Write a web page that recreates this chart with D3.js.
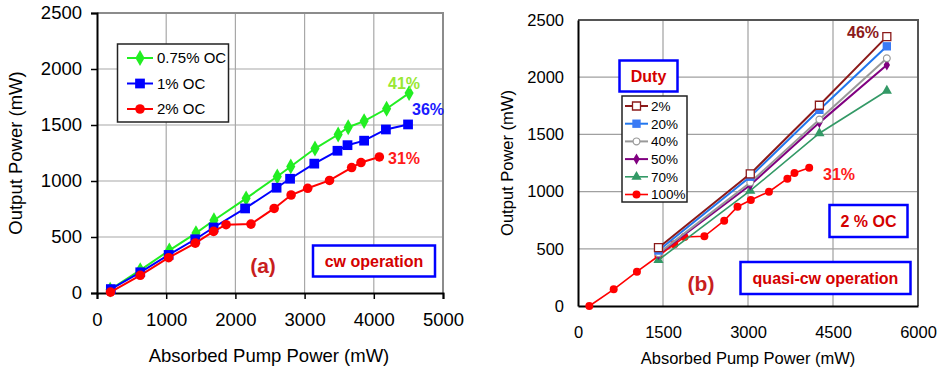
<!DOCTYPE html>
<html>
<head>
<meta charset="utf-8">
<script src="https://cdn.jsdelivr.net/npm/d3@7"></script>
<style>
body { margin: 0; background: #fff; }
svg text { font-family: "Liberation Sans", Arial, sans-serif; }
</style>
</head>
<body>
<div id="canvas"></div>
<script>
// ---- data: panel (a), cw operation ----
var cwX075 = [190, 625, 1045, 1430, 1690, 2155, 2605, 2800, 3150, 3485, 3630, 3860, 4185, 4510];
var cwY075 = [30, 205, 380, 535, 650, 845, 1040, 1130, 1290, 1415, 1480, 1535, 1645, 1785];
var cwX1 = [200, 625, 1035, 1420, 1685, 2140, 2595, 2790, 3140, 3475, 3620, 3860, 4175, 4495];
var cwY1 = [35, 185, 340, 480, 585, 755, 940, 1020, 1155, 1270, 1320, 1360, 1460, 1505];
var cwX2 = [195, 625, 1035, 1420, 1685, 1865, 2225, 2560, 2805, 3045, 3360, 3680, 3815, 4080];
var cwY2 = [8, 158, 315, 445, 550, 610, 615, 755, 875, 935, 1005, 1120, 1165, 1215];

// ---- data: panel (b), quasi-cw operation ----
var qX = [1420, 3040, 4260, 5450];
var qY2 = [510, 1155, 1755, 2355];
var qY20 = [485, 1130, 1715, 2270];
var qY40 = [460, 1080, 1630, 2165];
var qY50 = [452, 1058, 1603, 2107];
var qY70 = [402, 1008, 1510, 1882];
var qX100 = [200, 630, 1040, 1420, 1700, 1880, 2230, 2580, 2815, 3050, 3370, 3695, 3820, 4080];
var qY100 = [0, 146, 300, 437, 540, 603, 609, 746, 868, 927, 999, 1113, 1163, 1209];

var leftXTicks = [0, 1000, 2000, 3000, 4000, 5000];
var rightXTicks = [0, 1500, 3000, 4500, 6000];
var yTicks = [0, 500, 1000, 1500, 2000, 2500];

var svg = d3.select("#canvas").append("svg")
    .attr("width", 938).attr("height", 370);

function zip(xs, ys) {
    return xs.map((v, i) => ({x: v, y: ys[i]}));
}

function drawFrame(x, y, xTicks, opt) {
    var g = svg.append("g");
    var x0 = x.range()[0], x1 = x.range()[1];
    var y0 = y.range()[0], y1 = y.range()[1];
    // grid
    g.selectAll(".gx").data(xTicks.slice(1)).join("line")
        .attr("x1", d => x(d)).attr("x2", d => x(d))
        .attr("y1", y0).attr("y2", y1)
        .attr("stroke", opt.grid).attr("stroke-width", 1.2);
    g.selectAll(".gy").data(yTicks.slice(1)).join("line")
        .attr("x1", x0).attr("x2", x1)
        .attr("y1", d => y(d)).attr("y2", d => y(d))
        .attr("stroke", opt.grid).attr("stroke-width", 1.2);
    if (opt.border) {
        g.append("path")
            .attr("d", "M" + x0 + "," + y1 + "H" + x1 + "V" + y0)
            .attr("fill", "none").attr("stroke", opt.border).attr("stroke-width", 2);
    }
    // axes
    var ax = d3.axisBottom(x).tickValues(xTicks).tickSize(opt.tick).tickPadding(opt.xpad).tickFormat(d3.format("d"));
    var ay = d3.axisLeft(y).tickValues(yTicks).tickSize(opt.tick).tickPadding(opt.ypad).tickFormat(d3.format("d"));
    var gx = svg.append("g").attr("transform", "translate(0," + y0 + ")").call(ax);
    var gy = svg.append("g").attr("transform", "translate(" + x0 + ",0)").call(ay);
    [gx, gy].forEach(function(a) {
        a.select(".domain").attr("stroke", "#000").attr("stroke-width", 2);
        a.selectAll(".tick line").attr("stroke", "#000").attr("stroke-width", 1.5);
        a.selectAll("text").attr("font-size", opt.font).attr("fill", "#000")
            .attr("font-family", "Liberation Sans, Arial, sans-serif");
    });
    // titles
    svg.append("text").attr("x", opt.xlab[0]).attr("y", opt.xlab[1])
        .attr("text-anchor", "middle").attr("font-size", opt.font)
        .text("Absorbed Pump Power (mW)");
    svg.append("text")
        .attr("transform", "translate(" + opt.ylab[0] + "," + opt.ylab[1] + ") rotate(-90)")
        .attr("text-anchor", "middle").attr("font-size", opt.font)
        .text("Output Power (mW)");
}

function drawSeries(x, y, pts, s) {
    svg.append("path").datum(pts)
        .attr("d", d3.line().x(d => x(d.x)).y(d => y(d.y)))
        .attr("fill", "none").attr("stroke", s.color).attr("stroke-width", s.width);
    svg.append("g").selectAll("path").data(pts).join("path")
        .attr("transform", d => "translate(" + x(d.x) + "," + y(d.y) + ")")
        .attr("d", d3.symbol().type(s.symbol).size(s.size))
        .attr("fill", s.fill).attr("stroke", s.stroke || "none").attr("stroke-width", s.sw || 0);
}

function drawLegend(box, items, o) {
    svg.append("rect").attr("x", box[0]).attr("y", box[1])
        .attr("width", box[2]).attr("height", box[3])
        .attr("fill", "#fff").attr("stroke", "#222").attr("stroke-width", 1.5);
    items.forEach(function(s, i) {
        var yy = o.y0 + i * o.dy;
        svg.append("line").attr("x1", o.lx0).attr("x2", o.lx1).attr("y1", yy).attr("y2", yy)
            .attr("stroke", s.color).attr("stroke-width", s.width);
        svg.append("path").attr("transform", "translate(" + ((o.lx0 + o.lx1) / 2) + "," + yy + ")")
            .attr("d", d3.symbol().type(s.symbol).size(s.size))
            .attr("fill", s.fill).attr("stroke", s.stroke || "none").attr("stroke-width", s.sw || 0);
        svg.append("text").attr("x", o.tx).attr("y", yy + o.font * 0.36)
            .attr("font-size", o.font).text(s.name);
    });
}

function labelBox(r, text, font) {
    svg.append("rect").attr("x", r[0]).attr("y", r[1]).attr("width", r[2]).attr("height", r[3])
        .attr("fill", "#fff").attr("stroke", "#0000ff").attr("stroke-width", 2.5);
    svg.append("text").attr("x", r[0] + r[2] / 2).attr("y", r[1] + r[3] / 2 + font * 0.36)
        .attr("text-anchor", "middle").attr("font-size", font).attr("font-weight", "bold")
        .attr("fill", "#d40000").text(text);
}

function note(px, py, text, color, font) {
    svg.append("text").attr("x", px).attr("y", py).attr("text-anchor", "middle")
        .attr("font-size", font).attr("font-weight", "bold").attr("fill", color).text(text);
}

// ---------- panel (a) ----------
var xa = d3.scaleLinear().domain([0, 5000]).range([97, 443]);
var ya = d3.scaleLinear().domain([0, 2500]).range([293, 13]);
drawFrame(xa, ya, leftXTicks, {grid: "#a8a8a8", border: "#8c8c8c", tick: 6, xpad: 14, ypad: 9,
    font: 18.5, xlab: [269, 362], ylab: [22, 153]});

var cwSeries = [
    {name: "0.75% OC", pts: zip(cwX075, cwY075), color: "#22ee22", fill: "#22ee22", symbol: d3.symbolDiamond, size: 72, width: 2},
    {name: "1% OC", pts: zip(cwX1, cwY1), color: "#0000ff", fill: "#0000ff", symbol: d3.symbolSquare, size: 95, width: 2},
    {name: "2% OC", pts: zip(cwX2, cwY2), color: "#ff0000", fill: "#ff0000", symbol: d3.symbolCircle, size: 72, width: 2}
];
cwSeries.forEach(s => drawSeries(xa, ya, s.pts, s));
drawLegend([117.5, 44, 111, 78], cwSeries, {y0: 58, dy: 25.5, lx0: 127, lx1: 153, tx: 157, font: 15});

note(404, 89, "41%", "#99e833", 16);
note(428, 115, "36%", "#1a1aff", 16);
note(404, 164, "31%", "#ff1a1a", 16);
note(263, 273, "(a)", "#c81e1e", 21);
labelBox([313, 245.5, 122, 31], "cw operation", 16);

// ---------- panel (b) ----------
var xb = d3.scaleLinear().domain([0, 6000]).range([578, 918]);
var yb = d3.scaleLinear().domain([0, 2500]).range([306, 20]);
drawFrame(xb, yb, rightXTicks, {grid: "#a0a0a0", border: "#555", tick: 0, xpad: 20, ypad: 14,
    font: 16.5, xlab: [748, 364], ylab: [513, 163]});

var qSeries = [
    {name: "2%", pts: zip(qX, qY2), color: "#8b1a1a", fill: "#fff", stroke: "#8b1a1a", sw: 1.3, symbol: d3.symbolSquare, size: 64, width: 2},
    {name: "20%", pts: zip(qX, qY20), color: "#2277ee", fill: "#3a7af5", symbol: d3.symbolSquare, size: 70, width: 2},
    {name: "40%", pts: zip(qX, qY40), color: "#999", fill: "#fff", stroke: "#999", sw: 1.2, symbol: d3.symbolCircle, size: 36, width: 2},
    {name: "50%", pts: zip(qX, qY50), color: "#800080", fill: "#800080", symbol: d3.symbolDiamond, size: 36, width: 2},
    {name: "70%", pts: zip(qX, qY70), color: "#339966", fill: "#339966", symbol: d3.symbolTriangle, size: 45, width: 1.6},
    {name: "100%", pts: zip(qX100, qY100), color: "#ff0000", fill: "#ff0000", symbol: d3.symbolCircle, size: 50, width: 1.6}
];
// draw back to front so 2% ends on top at the last point
qSeries.slice().reverse().forEach(s => drawSeries(xb, yb, s.pts, s));
drawLegend([622, 96, 65, 106], qSeries, {y0: 106, dy: 17.7, lx0: 625, lx1: 648, tx: 651, font: 13.5});

labelBox([619.5, 60.5, 58, 31], "Duty", 16);
note(863, 38, "46%", "#8b1a1a", 16);
note(839, 180, "31%", "#ff1a1a", 16);
note(701, 291, "(b)", "#c81e1e", 21);
labelBox([829.5, 205, 78, 32], "2 % OC", 16);
labelBox([740.5, 262, 170, 32], "quasi-cw operation", 16);
</script>
</body>
</html>
